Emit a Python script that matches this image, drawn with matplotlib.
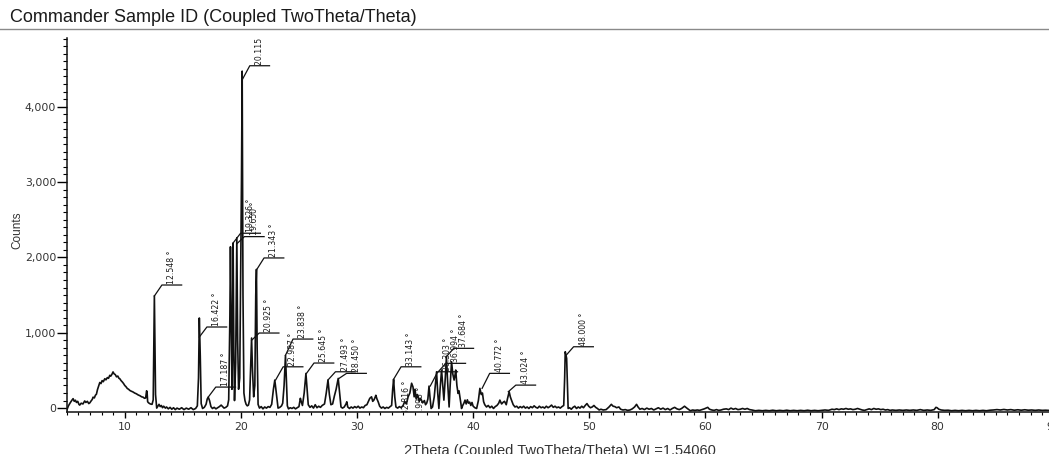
import matplotlib
matplotlib.use('Agg')
from matplotlib import pyplot as plt
from matplotlib import font_manager
from matplotlib.lines import Line2D
from matplotlib.ticker import MultipleLocator, FuncFormatter

# pattern (2theta in degrees, counts)
two_theta = [
    5.00, 5.15, 5.30, 5.45, 5.55, 5.65, 5.75, 5.84, 5.95, 6.05, 6.12, 6.25, 6.40, 6.55, 6.65, 6.78, 6.90, 6.99,
    7.10, 7.20, 7.27, 7.38, 7.47, 7.56, 7.65, 7.75, 7.85, 7.95, 8.05, 8.15, 8.28, 8.38, 8.50, 8.60, 8.71, 8.80,
    8.90, 8.99, 9.08, 9.18, 9.29, 9.40, 9.50, 9.57, 9.68, 9.80, 9.90, 10.00, 10.10, 10.22, 10.33, 10.43, 10.55,
    10.70, 10.85, 11.00, 11.15, 11.30, 11.45, 11.58, 11.70, 11.80, 11.88, 11.92, 11.97, 12.05, 12.20, 12.35,
    12.45, 12.55, 12.65, 12.75, 12.85, 12.95, 13.05, 13.15, 13.25, 13.35, 13.50, 13.60, 13.75, 13.90, 14.05,
    14.20, 14.35, 14.50, 14.70, 14.90, 15.10, 15.30, 15.50, 15.70, 15.90, 16.10, 16.25, 16.35, 16.42, 16.50,
    16.58, 16.70, 16.85, 17.00, 17.10, 17.19, 17.30, 17.42, 17.55, 17.70, 17.85, 18.00, 18.15, 18.30, 18.42,
    18.55, 18.70, 18.85, 18.95, 19.05, 19.10, 19.18, 19.23, 19.28, 19.33, 19.39, 19.45, 19.55, 19.65, 19.72,
    19.80, 19.90, 20.05, 20.11, 20.18, 20.26, 20.35, 20.45, 20.55, 20.65, 20.75, 20.85, 20.92, 21.00, 21.10,
    21.20, 21.28, 21.34, 21.40, 21.48, 21.60, 21.75, 21.90, 22.05, 22.20, 22.35, 22.50, 22.65, 22.80, 22.92,
    23.05, 23.20, 23.35, 23.50, 23.60, 23.72, 23.84, 23.92, 24.00, 24.10, 24.25, 24.40, 24.55, 24.70, 24.85,
    25.00, 25.12, 25.20, 25.30, 25.45, 25.60, 25.70, 25.80, 25.95, 26.10, 26.25, 26.40, 26.55, 26.70, 26.85,
    27.00, 27.20, 27.35, 27.50, 27.62, 27.75, 27.90, 28.05, 28.20, 28.38, 28.50, 28.62, 28.75, 28.90, 29.05,
    29.12, 29.20, 29.35, 29.50, 29.65, 29.80, 29.95, 30.10, 30.25, 30.40, 30.55, 30.70, 30.85, 30.96, 31.10,
    31.25, 31.35, 31.45, 31.55, 31.62, 31.72, 31.82, 31.95, 32.10, 32.25, 32.40, 32.55, 32.70, 32.85, 32.98,
    33.07, 33.15, 33.25, 33.35, 33.50, 33.65, 33.80, 33.97, 34.10, 34.25, 34.40, 34.55, 34.70, 34.82, 34.92,
    34.99, 35.10, 35.20, 35.27, 35.35, 35.45, 35.55, 35.65, 35.80, 35.90, 36.00, 36.10, 36.20, 36.28, 36.38,
    36.50, 36.65, 36.85, 36.95, 37.05, 37.15, 37.28, 37.38, 37.48, 37.60, 37.70, 37.80, 37.93, 38.02, 38.14,
    38.25, 38.36, 38.45, 38.50, 38.60, 38.70, 38.78, 38.85, 38.95, 39.00, 39.10, 39.20, 39.30, 39.40, 39.50,
    39.60, 39.70, 39.80, 39.90, 40.00, 40.15, 40.30, 40.45, 40.58, 40.70, 40.80, 40.90, 41.00, 41.15, 41.30,
    41.45, 41.60, 41.75, 41.90, 42.05, 42.20, 42.30, 42.45, 42.60, 42.70, 42.85, 42.95, 43.10, 43.20, 43.30,
    43.45, 43.60, 43.75, 43.90, 44.05, 44.20, 44.35, 44.50, 44.65, 44.80, 44.95, 45.10, 45.25, 45.40, 45.55,
    45.70, 45.85, 46.00, 46.15, 46.30, 46.45, 46.60, 46.75, 46.90, 47.05, 47.20, 47.35, 47.50, 47.65, 47.80,
    47.88, 47.93, 48.05, 48.12, 48.18, 48.30, 48.45, 48.60, 48.75, 48.90, 49.05, 49.20, 49.35, 49.50, 49.65,
    49.80, 49.95, 50.10, 50.25, 50.40, 50.55, 50.70, 50.85, 51.00, 51.20, 51.45, 51.70, 51.90, 52.05, 52.20,
    52.35, 52.55, 52.70, 52.90, 53.10, 53.30, 53.50, 53.70, 53.90, 54.07, 54.20, 54.36, 54.55, 54.75, 54.95,
    55.15, 55.35, 55.55, 55.75, 55.95, 56.15, 56.35, 56.55, 56.75, 56.95, 57.15, 57.35, 57.55, 57.75, 57.95,
    58.20, 58.40, 58.70, 58.90, 59.10, 59.30, 59.50, 59.70, 59.90, 60.05, 60.20, 60.35, 60.55, 60.75, 60.95,
    61.15, 61.35, 61.55, 61.80, 62.00, 62.20, 62.40, 62.60, 62.80, 63.00, 63.20, 63.40, 63.60, 63.80, 64.00,
    64.30, 64.60, 64.90, 65.20, 65.50, 65.80, 66.10, 66.40, 66.70, 67.00, 67.30, 67.60, 67.90, 68.20, 68.50,
    68.80, 69.10, 69.40, 69.70, 70.00, 70.30, 70.60, 70.90, 71.10, 71.30, 71.50, 71.70, 71.90, 72.10, 72.30,
    72.50, 72.70, 72.90, 73.10, 73.30, 73.50, 73.70, 73.90, 74.10, 74.30, 74.50, 74.70, 74.90, 75.10, 75.30,
    75.50, 75.70, 75.90, 76.10, 76.40, 76.70, 77.00, 77.30, 77.60, 77.90, 78.20, 78.50, 78.80, 79.10, 79.40,
    79.70, 79.85, 79.95, 80.10, 80.30, 80.60, 80.90, 81.20, 81.50, 81.80, 82.10, 82.40, 82.70, 83.00, 83.30,
    83.60, 83.90, 84.20, 84.50, 84.80, 85.10, 85.40, 85.70, 86.00, 86.30, 86.60, 86.90, 87.20, 87.50, 87.80,
    88.10, 88.40, 88.70, 89.00, 89.30, 89.60, 90.00,
]
counts = [
    -30, 30, 70, 105, 125, 90, 105, 75, 90, 50, 40, 65, 55, 95, 75, 90, 60, 70,
    95, 115, 145, 135, 170, 185, 245, 295, 340, 325, 365, 350, 390, 375, 405, 395, 435, 425,
    450, 480, 455, 445, 415, 425, 395, 390, 365, 345, 325, 300, 285, 260, 250, 235, 225,
    215, 200, 190, 175, 165, 150, 145, 130, 135, 230, 215, 85, 70, 55, 50,
    110, 1490, 180, 0, 25, 50, 20, 35, 5, 25, 0, 15, -10, 10, -15,
    5, -20, 0, -15, 5, -20, 0, -15, 5, -20, -5, 30, 400, 1195, 700,
    60, -5, 10, 50, 120, 145, 100, 20, -5, 10, -10, 5, 20, 40, 20,
    0, 10, 30, 110, 1200, 2140, 900, 250, 900, 2190, 800, 100, 600, 2260, 900,
    250, 400, 3000, 4470, 1500, 200, 100, 50, 30, 40, 110, 600, 930, 500, 150,
    300, 1500, 1840, 800, 50, 0, 20, -10, 15, 0, 20, 10, 50, 250, 372,
    200, 0, 10, 30, 65, 300, 700, 350, 30, -10, 5, -5, 10, -10, 5,
    20, 130, 85, 35, 200, 460, 250, 45, 10, 30, 0, 45, 5, 25, 10,
    35, 55, 200, 372, 180, 45, 55, 160, 250, 394, 200, 15, 0, 15, 55,
    84, 15, -5, 15, 0, 20, 5, 25, 0, 15, 5, 35, 45, 84, 130,
    150, 90, 106, 140, 170, 120, 84, 25, 0, 15, -5, 10, 0, 20, 35,
    250, 381, 150, 15, 0, 20, 5, 35, 85, 55, 150, 200, 330, 280, 150,
    250, 120, 180, 150, 90, 130, 106, 70, 100, 45, 66, 120, 292, 150, -5,
    15, 150, 482, 200, -5, 250, 505, 300, 106, 400, 681, 350, 15, 300, 615,
    450, 372, 450, 505, 300, 195, 230, 160, 55, -5, 35, 65, 106, 55, 110,
    65, 80, 35, 75, 25, 5, -5, 100, 262, 180, 200, 85, 45, 15, 35,
    5, 25, -5, 20, 35, 65, 106, 55, 80, 90, 45, 120, 217, 150, 106,
    45, 15, 25, 0, 20, 5, 25, 0, 15, -5, 20, 5, 30, 10, 0,
    25, 5, 15, 0, 25, 5, 20, 40, 10, 25, 5, 15, 0, 20, 35,
    400, 748, 660, 300, -5, 5, -15, 10, 25, -5, 15, 0, 25, 5, 35,
    60, 25, 5, 15, 35, 10, -5, -25, -15, -25, -20, 15, 50, 25, 20,
    5, 15, -15, -25, -20, -30, -25, -10, 15, 50, 15, -15, -5, -20, 0,
    -15, -5, -25, -10, 5, -15, 0, -20, -5, -25, -5, 10, -10, -20, -5,
    25, 0, -35, -25, -30, -25, -30, -20, -10, 0, 10, -15, -25, -30, -20,
    -30, -25, -15, -10, -20, 0, -15, -5, -20, -15, -5, -15, -5, -20, -25,
    -35, -30, -35, -30, -35, -28, -35, -30, -35, -28, -35, -30, -35, -30, -35,
    -28, -35, -30, -35, -30, -25, -30, -15, -20, -10, -20, -10, -15, -5, -15,
    -10, -20, -15, -5, -15, -25, -30, -20, -10, -20, -5, -15, -10, -20, -15,
    -25, -20, -30, -25, -30, -25, -30, -25, -30, -25, -30, -20, -30, -25, -30,
    -20, 10, 5, -15, -25, -30, -28, -35, -30, -35, -30, -35, -30, -35, -30,
    -35, -30, -35, -28, -25, -20, -25, -18, -25, -20, -28, -22, -28, -22, -28,
    -25, -30, -25, -30, -28, -32, -30,
]

# peak labels: label value, counts where the leader starts, counts of the label baseline
peak_labels = [12.548, 16.422, 17.187, 19.326, 19.650, 20.115, 20.925, 21.343, 22.987, 23.838, 25.645,
               27.493, 28.450, 32.816, 33.143, 33.993, 36.303, 36.994, 37.684, 40.772, 43.024, 48.000]
leader_start = [1487, 943, 146, 2190, 2180, 4356, 900, 1833, 372, 700, 460,
                372, 394, -60, 381, -140, 292, 482, 681, 262, 217, 700]
label_level = [1633, 1076, 279, 2320, 2275, 4542, 996, 1992, 548, 916, 598,
               482, 461, -89, 548, -173, 482, 594, 793, 461, 305, 814]

W, H = 1049, 454


def pick_font(names, fallback='DejaVu Sans'):
    installed = {f.name for f in font_manager.fontManager.ttflist}
    for n in names:
        if n in installed:
            return n
    return fallback


narrow = pick_font(['Liberation Sans Narrow'])
label_size = 8 if narrow == 'Liberation Sans Narrow' else 5.6
sans = pick_font(['Liberation Sans', 'Arimo'])

fig = plt.figure(figsize=(W / 100, H / 100), dpi=100)
fig.patch.set_facecolor('white')

# title and rule under it
fig.text(10 / W, 1 - 22 / H, 'Commander Sample ID (Coupled TwoTheta/Theta)', fontsize=13,
         family=sans, color='#1a1a1a', va='baseline', ha='left')
fig.add_artist(Line2D([0, 1], [1 - 28.5 / H, 1 - 28.5 / H], transform=fig.transFigure,
                      color='#8a8a8a', lw=1))

left, right, top, bottom = 66.7, 1053.8, 38, 411.5
ax = fig.add_axes([left / W, 1 - bottom / H, (right - left) / W, (bottom - top) / H])
ax.plot(two_theta, counts, color='#111111', lw=1.2)
ax.set_xlim(5, 90)
ax.set_ylim(-45, 4910)

for side in ('top', 'right'):
    ax.spines[side].set_visible(False)
for side in ('left', 'bottom'):
    ax.spines[side].set_linewidth(1.1)
    ax.spines[side].set_color('#111111')

ax.xaxis.set_major_locator(MultipleLocator(10))
ax.xaxis.set_minor_locator(MultipleLocator(1))
ax.yaxis.set_major_locator(MultipleLocator(1000))
ax.yaxis.set_minor_locator(MultipleLocator(100))
ax.yaxis.set_major_formatter(FuncFormatter(lambda v, p: f'{v:,.0f}'))
ax.set_xticks([t for t in range(10, 100, 10)])
ax.tick_params(axis='x', which='major', direction='out', length=4, width=1, pad=3.5,
               labelsize=7.8, labelcolor='#333333')
ax.tick_params(axis='x', which='minor', direction='out', length=2, width=0.8)
ax.tick_params(axis='y', which='major', direction='out', length=7, width=1, pad=0.5,
               labelsize=7.8, labelcolor='#333333')
ax.tick_params(axis='y', which='minor', direction='out', length=3, width=0.8)

# peak labels with elbow leaders
dx, run = 0.65, 1.7
for pos, start, level in zip(peak_labels, leader_start, label_level):
    ax.plot([pos, pos + dx, pos + dx + run], [start, level, level], color='#111111', lw=0.9,
            clip_on=True)
    ax.text(pos + dx + 0.45, level + 15, f'{pos:.3f} °', rotation=90, ha='left', va='bottom',
            fontsize=label_size, family=narrow, color='#1a1a1a', clip_on=True)

fig.text(17 / W, 1 - 230 / H, 'Counts', rotation=90, ha='center', va='center', fontsize=8.5,
         family=sans, color='#333333')
fig.text((left + right) / 2 / W, 1 - 444 / H, '2Theta (Coupled TwoTheta/Theta) WL=1.54060',
         ha='center', va='top', fontsize=10.5, family=sans, color='#333333')

fig.savefig('out.png', dpi=100)
